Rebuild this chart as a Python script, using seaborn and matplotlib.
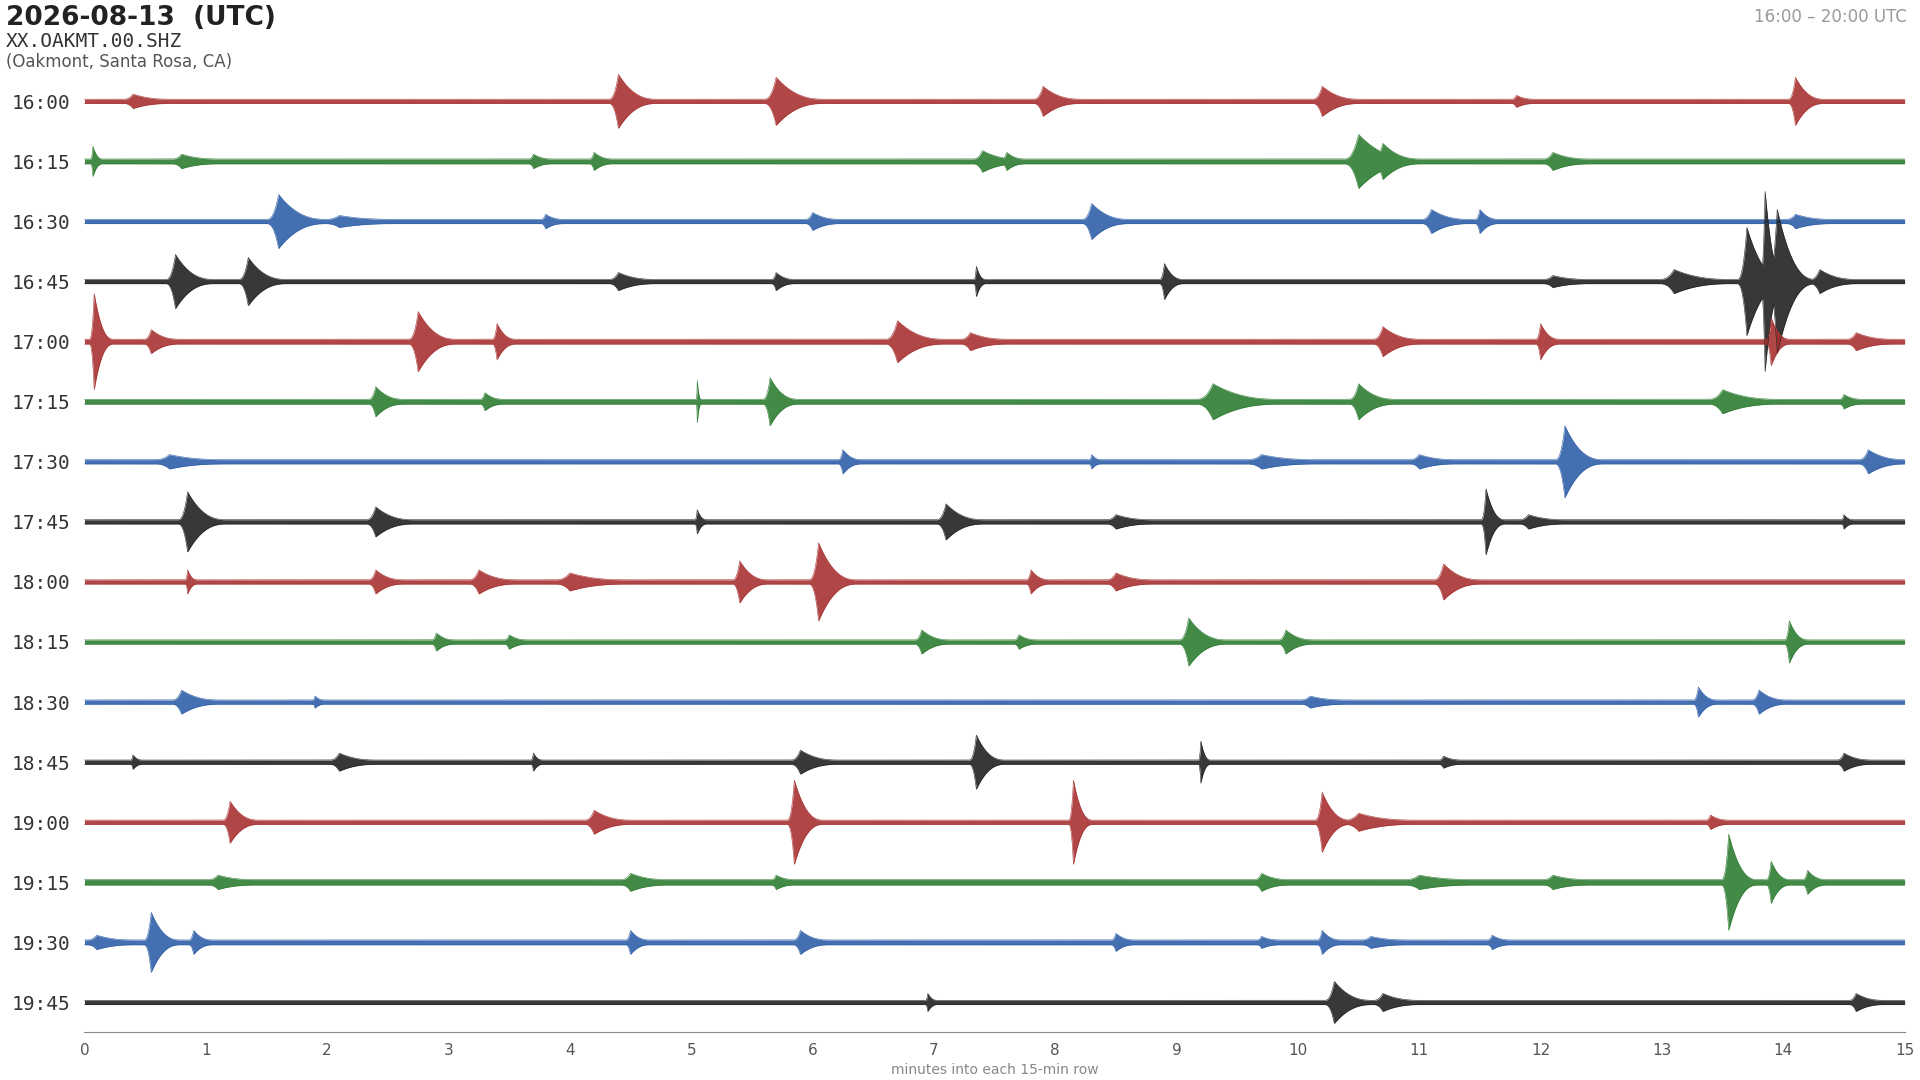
import numpy as np
import seaborn as sns
import matplotlib.pyplot as plt

row_labels = ["16:00", "16:15", "16:30", "16:45", "17:00", "17:15", "17:30", "17:45",
              "18:00", "18:15", "18:30", "18:45", "19:00", "19:15", "19:30", "19:45"]
row_colors = ["#a83232", "#2e7d32", "#2f5fa8", "#222222"] * 4
# background half-amplitude per row (in row-spacing units)
row_base = [0.035, 0.04, 0.035, 0.035, 0.04, 0.04, 0.035, 0.035,
            0.035, 0.035, 0.035, 0.035, 0.035, 0.045, 0.04, 0.035]
# events per row: (minute, half-amplitude, half-duration in minutes)
row_events = [
    [(0.4, 0.12, 0.2), (4.4, 0.45, 0.2), (5.7, 0.4, 0.25), (7.9, 0.25, 0.2), (10.2, 0.25, 0.2), (11.8, 0.1, 0.1), (14.1, 0.4, 0.15)],
    [(0.07, 0.25, 0.05), (0.8, 0.12, 0.2), (3.7, 0.12, 0.1), (4.2, 0.15, 0.1), (7.4, 0.18, 0.2), (7.6, 0.15, 0.1), (10.5, 0.45, 0.3), (10.7, 0.3, 0.2), (12.1, 0.15, 0.2)],
    [(1.6, 0.45, 0.25), (2.1, 0.1, 0.3), (3.8, 0.12, 0.1), (6.0, 0.15, 0.15), (8.3, 0.3, 0.2), (11.1, 0.2, 0.2), (11.5, 0.2, 0.1), (14.1, 0.12, 0.2)],
    [(0.75, 0.45, 0.2), (1.35, 0.4, 0.2), (4.4, 0.15, 0.2), (5.7, 0.15, 0.1), (7.35, 0.25, 0.05), (8.9, 0.3, 0.1), (12.1, 0.1, 0.2), (13.1, 0.2, 0.3), (13.7, 0.9, 0.2), (13.85, 1.5, 0.1), (13.95, 1.2, 0.2), (14.3, 0.2, 0.2)],
    [(0.08, 0.8, 0.1), (0.55, 0.2, 0.15), (2.75, 0.5, 0.2), (3.4, 0.3, 0.1), (6.7, 0.35, 0.25), (7.3, 0.15, 0.2), (10.7, 0.25, 0.2), (12.0, 0.3, 0.1), (13.9, 0.4, 0.1), (14.6, 0.15, 0.2)],
    [(2.4, 0.25, 0.15), (3.3, 0.15, 0.1), (5.05, 0.35, 0.02), (5.65, 0.4, 0.15), (9.3, 0.3, 0.35), (10.5, 0.3, 0.2), (13.5, 0.2, 0.3), (14.5, 0.12, 0.1)],
    [(0.7, 0.12, 0.3), (6.25, 0.2, 0.1), (8.3, 0.12, 0.05), (9.7, 0.12, 0.3), (11.0, 0.12, 0.2), (12.2, 0.6, 0.2), (14.7, 0.2, 0.2)],
    [(0.85, 0.5, 0.2), (2.4, 0.25, 0.2), (5.05, 0.2, 0.05), (7.1, 0.3, 0.2), (8.5, 0.12, 0.2), (11.55, 0.55, 0.1), (11.9, 0.12, 0.2), (14.5, 0.12, 0.05)],
    [(0.85, 0.2, 0.05), (2.4, 0.2, 0.15), (3.25, 0.2, 0.2), (4.0, 0.15, 0.3), (5.4, 0.35, 0.15), (6.05, 0.65, 0.2), (7.8, 0.2, 0.1), (8.5, 0.15, 0.2), (11.2, 0.3, 0.2)],
    [(2.9, 0.15, 0.1), (3.5, 0.12, 0.1), (6.9, 0.2, 0.15), (7.7, 0.12, 0.1), (9.1, 0.4, 0.2), (9.9, 0.2, 0.15), (14.05, 0.35, 0.1)],
    [(0.8, 0.2, 0.2), (1.9, 0.1, 0.05), (10.1, 0.1, 0.2), (13.3, 0.25, 0.1), (13.8, 0.2, 0.15)],
    [(0.4, 0.12, 0.05), (2.1, 0.15, 0.2), (3.7, 0.15, 0.05), (5.9, 0.2, 0.2), (7.35, 0.45, 0.15), (9.2, 0.35, 0.05), (11.2, 0.1, 0.1), (14.5, 0.15, 0.15)],
    [(1.2, 0.35, 0.15), (4.2, 0.2, 0.2), (5.85, 0.7, 0.15), (8.15, 0.7, 0.1), (10.2, 0.5, 0.15), (10.5, 0.15, 0.3), (13.4, 0.12, 0.1)],
    [(1.1, 0.12, 0.2), (4.5, 0.15, 0.2), (5.7, 0.12, 0.1), (9.7, 0.15, 0.15), (11.0, 0.12, 0.3), (12.1, 0.12, 0.2), (13.55, 0.8, 0.15), (13.9, 0.35, 0.1), (14.2, 0.2, 0.1)],
    [(0.1, 0.12, 0.2), (0.55, 0.5, 0.15), (0.9, 0.2, 0.1), (4.5, 0.2, 0.1), (5.9, 0.2, 0.15), (8.5, 0.15, 0.1), (9.7, 0.1, 0.1), (10.2, 0.2, 0.1), (10.6, 0.1, 0.2), (11.6, 0.12, 0.1)],
    [(6.95, 0.15, 0.05), (10.3, 0.35, 0.2), (10.7, 0.15, 0.2), (14.6, 0.15, 0.15)],
]

sns.set_style("white")
plt.rcParams["font.family"] = ["DejaVu Sans"]

fig = plt.figure(figsize=(19.2, 10.8), dpi=100)
ax = fig.add_axes([0.044, 0.044, 0.948, 0.890])

t = np.linspace(0, 15, 6001)
for i, label in enumerate(row_labels):
    env = np.full_like(t, row_base[i])
    for m, a, d in row_events[i]:
        # sharp onset, slower coda: peak shape built from the read event values
        dt = t - m
        w = np.where(dt < 0, np.clip(1 + dt / (0.4 * d), 0, 1), np.clip(1 - dt / (1.6 * d), 0, 1))
        env = np.maximum(env, row_base[i] + (a - row_base[i]) * w ** 2.5)
    y = -i
    ax.fill_between(t, y - env, y + env, color=row_colors[i], lw=0, alpha=0.9)
    sns.lineplot(x=t, y=y + env, ax=ax, color=row_colors[i], lw=0.4)
    sns.lineplot(x=t, y=y - env, ax=ax, color=row_colors[i], lw=0.4)

ax.set_xlim(0, 15)
ax.set_ylim(-15.5, 0.5)
ax.set_xticks(range(16))
ax.set_yticks([-i for i in range(16)])
ax.set_yticklabels(row_labels, family="DejaVu Sans Mono", fontsize=14, color="#333333")
ax.tick_params(axis="y", length=0, pad=10)
ax.tick_params(axis="x", labelsize=11, colors="#555555", length=4)
for s in ["top", "right", "left"]:
    ax.spines[s].set_visible(False)
ax.spines["bottom"].set_color("#888888")
ax.set_xlabel("minutes into each 15-min row", fontsize=10, color="#888888", labelpad=4)

fig.text(0.003, 0.995, "2026-08-13  (UTC)", fontsize=19, fontweight="bold", va="top", color="#222222")
fig.text(0.003, 0.970, "XX.OAKMT.00.SHZ", fontsize=14, family="DejaVu Sans Mono", va="top", color="#333333")
fig.text(0.003, 0.951, "(Oakmont, Santa Rosa, CA)", fontsize=12, va="top", color="#555555")
fig.text(0.993, 0.993, "16:00 \u2013 20:00 UTC", fontsize=12, va="top", ha="right", color="#999999")

fig.savefig("out.png", dpi=100)
